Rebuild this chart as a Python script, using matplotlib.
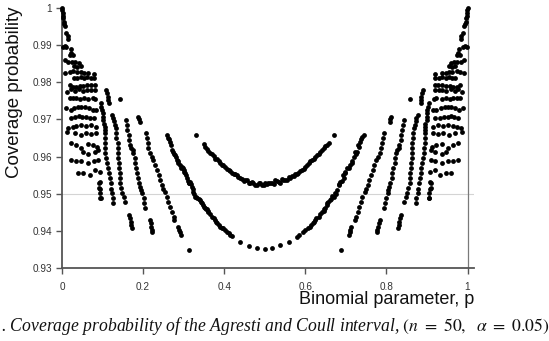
import matplotlib
matplotlib.use("Agg")
import matplotlib.pyplot as plt

# ---------------- data ----------------
# dense lattice near p = 0
edge_left_p = [0.000,0.001,0.002,0.002,0.003,0.004,0.005,0.008,0.011,0.015,0.016,
               0.002,0.007,0.011,0.021,0.023,0.019,0.027,
               0.008,0.016,0.025,0.033,0.041,0.030,0.038,0.046,
               0.008,0.019,0.027,0.038,0.046,0.054,0.064,0.079,
               0.030,0.038,0.046,0.054,0.062,0.071,0.079,
               0.019,0.027,0.035,0.044,0.052,0.062,0.072,0.081,
               0.013,0.023,0.031,0.041,0.052,0.062,0.071,0.081,
               0.019,0.027,0.035,0.044,0.054,0.064,0.077,0.082,
               0.011,0.021,0.030,0.040,0.048,0.056,0.066,0.077,0.085,
               0.023,0.033,0.041,0.049,0.058,0.068,0.079,
               0.015,0.027,0.035,0.048,0.060,0.072,0.085,
               0.013,0.031,0.046,0.060,0.072,0.085,
               0.023,0.035,0.048,0.064,0.077,0.087,
               0.089,0.081,0.064,0.052,
               0.023,0.035,0.048,0.064,0.079,0.089,
               0.040,0.052,0.068,0.081,0.093,
               0.093,0.093,0.096,0.091,0.091,0.094,0.094]
edge_left_c = [1.000,0.9995,0.9987,0.9978,0.9972,0.9963,0.9957,0.9952,0.9933,0.9925,0.9916,
               0.9896,0.9898,0.9896,0.9889,0.9880,0.9873,0.9873,
               0.9860,0.9855,0.9855,0.9855,0.9851,0.9844,0.9842,0.9844,
               0.9824,0.9829,0.9830,0.9829,0.9829,0.9826,0.9826,0.9822,
               0.9811,0.9811,0.9813,0.9811,0.9813,0.9811,0.9811,
               0.9793,0.9786,0.9786,0.9790,0.9790,0.9793,0.9793,0.9793,
               0.9775,0.9781,0.9777,0.9781,0.9777,0.9779,0.9779,0.9779,
               0.9757,0.9757,0.9757,0.9754,0.9757,0.9755,0.9757,0.9754,
               0.9730,0.9725,0.9730,0.9734,0.9733,0.9734,0.9730,0.9725,0.9725,
               0.9703,0.9707,0.9709,0.9707,0.9706,0.9703,0.9703,
               0.9676,0.9680,0.9682,0.9685,0.9682,0.9685,0.9680,
               0.9667,0.9664,0.9658,0.9663,0.9661,0.9663,
               0.9636,0.9631,0.9622,0.9634,0.9631,0.9627,
               0.9618,0.9613,0.9607,0.9613,
               0.9591,0.9589,0.9589,0.9582,0.9589,0.9591,
               0.9555,0.9557,0.9550,0.9564,0.9559,
               0.9532,0.9512,0.9488,0.9530,0.9516,0.9502,0.9488]

# dense lattice near p = 1
edge_right_p = [1.000,0.999,0.998,0.998,0.997,0.996,0.995,0.992,0.989,0.985,0.984,
                0.998,0.993,0.989,0.979,0.977,0.981,0.973,
                0.992,0.984,0.975,0.967,0.959,0.970,0.962,0.954,
                0.992,0.981,0.973,0.962,0.954,0.946,0.936,0.921,
                0.970,0.962,0.954,0.946,0.938,0.929,0.921,
                0.981,0.973,0.965,0.956,0.948,0.938,0.928,0.919,
                0.987,0.977,0.969,0.959,0.948,0.938,0.929,0.919,
                0.981,0.973,0.965,0.956,0.946,0.936,0.923,0.918,
                0.989,0.979,0.970,0.960,0.952,0.944,0.934,0.923,0.915,
                0.977,0.967,0.959,0.951,0.942,0.932,0.921,
                0.985,0.973,0.965,0.952,0.940,0.928,0.915,
                0.987,0.969,0.954,0.940,0.928,0.915,
                0.977,0.965,0.952,0.936,0.923,0.913,
                0.911,0.919,0.936,0.948,
                0.977,0.965,0.952,0.936,0.921,0.911,
                0.960,0.948,0.932,0.919,0.907,
                0.907,0.907,0.904,0.909,0.909,0.906,0.906]
edge_right_c = [1.000,0.9995,0.9987,0.9978,0.9972,0.9963,0.9957,0.9952,0.9933,0.9925,0.9916,
                0.9896,0.9898,0.9896,0.9889,0.9880,0.9873,0.9873,
                0.9860,0.9855,0.9855,0.9855,0.9851,0.9844,0.9842,0.9844,
                0.9824,0.9829,0.9830,0.9829,0.9829,0.9826,0.9826,0.9822,
                0.9811,0.9811,0.9813,0.9811,0.9813,0.9811,0.9811,
                0.9793,0.9786,0.9786,0.9790,0.9790,0.9793,0.9793,0.9793,
                0.9775,0.9781,0.9777,0.9781,0.9777,0.9779,0.9779,0.9779,
                0.9757,0.9757,0.9757,0.9754,0.9757,0.9755,0.9757,0.9754,
                0.9730,0.9725,0.9730,0.9734,0.9733,0.9734,0.9730,0.9725,0.9725,
                0.9703,0.9707,0.9709,0.9707,0.9706,0.9703,0.9703,
                0.9676,0.9680,0.9682,0.9685,0.9682,0.9685,0.9680,
                0.9667,0.9664,0.9658,0.9663,0.9661,0.9663,
                0.9636,0.9631,0.9622,0.9634,0.9631,0.9627,
                0.9618,0.9613,0.9607,0.9613,
                0.9591,0.9589,0.9589,0.9582,0.9589,0.9591,
                0.9555,0.9557,0.9550,0.9564,0.9559,
                0.9532,0.9512,0.9488,0.9530,0.9516,0.9502,0.9488]

# steep strands, left half
strands_left_p = [0.109,0.112,0.114,0.114,0.115,
                  0.143,
                  0.096,0.097,0.099,0.101,0.101,0.101,0.104,0.105,0.105,0.105,0.105,0.105,
                  0.107,0.107,0.109,0.112,0.114,0.115,0.118,0.120,0.122,0.123,0.126,0.126,
                  0.123,0.126,0.128,0.130,0.132,0.134,0.134,0.137,0.137,0.138,0.138,0.140,
                  0.140,0.142,0.142,0.142,0.146,0.149,0.152,0.156,
                  0.157,0.160,0.161,0.164,0.165,0.168,0.170,0.174,0.176,0.179,0.180,0.183,
                  0.185,0.187,0.190,0.193,0.195,0.197,0.201,0.203,0.205,
                  0.188,0.190,0.192,
                  0.165,0.167,0.169,0.170,0.172,
                  0.207,0.209,0.212,0.213,0.217,0.221,0.225,0.230,0.234,0.238,0.242,0.246,
                  0.250,0.254,0.259,0.262,0.267,0.271,0.275,0.277,
                  0.217,0.219,0.220,0.222,0.223,
                  0.287,0.289,0.291,0.293,
                  0.312]
strands_left_c = [0.9779,0.9770,0.9761,0.9752,0.9743,
                  0.9754,
                  0.9743,0.9734,0.9725,0.9716,0.9707,0.9698,0.9689,0.9680,0.9671,0.9663,0.9649,0.9636,
                  0.9622,0.9609,0.9595,0.9582,0.9568,0.9555,0.9541,0.9528,0.9514,0.9501,0.9488,0.9474,
                  0.9712,0.9703,0.9695,0.9685,0.9676,0.9663,0.9649,0.9636,0.9622,0.9609,0.9595,0.9582,
                  0.9568,0.9555,0.9541,0.9528,0.9515,0.9502,0.9490,0.9478,
                  0.9698,0.9685,0.9671,0.9658,0.9645,0.9631,0.9622,0.9618,0.9609,0.9595,0.9582,0.9568,
                  0.9555,0.9541,0.9528,0.9519,0.9510,0.9501,0.9488,0.9474,0.9461,
                  0.9707,0.9700,0.9694,
                  0.9443,0.9434,0.9425,0.9416,0.9407,
                  0.9663,0.9649,0.9636,0.9622,0.9609,0.9600,0.9591,0.9577,0.9564,0.9550,0.9537,0.9523,
                  0.9514,0.9505,0.9492,0.9478,0.9465,0.9451,0.9438,0.9429,
                  0.9429,0.9420,0.9411,0.9402,0.9398,
                  0.9411,0.9403,0.9396,0.9389,
                  0.9348]

# steep strands, right half
strands_right_p = [0.891,0.888,0.886,0.886,0.885,
                   0.857,
                   0.904,0.903,0.901,0.899,0.899,0.899,0.896,0.895,0.895,0.895,0.895,0.895,
                   0.893,0.893,0.891,0.888,0.886,0.885,0.882,0.880,0.878,0.877,0.874,0.874,
                   0.877,0.874,0.872,0.870,0.868,0.866,0.866,0.863,0.863,0.862,0.862,0.860,
                   0.860,0.858,0.858,0.858,0.854,0.851,0.848,0.844,
                   0.843,0.840,0.839,0.836,0.835,0.832,0.830,0.826,0.824,0.821,0.820,0.817,
                   0.815,0.813,0.810,0.807,0.805,0.803,0.799,0.797,0.795,
                   0.812,0.810,0.808,
                   0.835,0.833,0.831,0.830,0.828,
                   0.793,0.791,0.788,0.787,0.783,0.779,0.775,0.770,0.766,0.762,0.758,0.754,
                   0.750,0.746,0.741,0.738,0.733,0.729,0.725,0.723,
                   0.783,0.781,0.780,0.778,0.777,
                   0.713,0.711,0.709,0.707,
                   0.688]
strands_right_c = [0.9779,0.9770,0.9761,0.9752,0.9743,
                   0.9754,
                   0.9743,0.9734,0.9725,0.9716,0.9707,0.9698,0.9689,0.9680,0.9671,0.9663,0.9649,0.9636,
                   0.9622,0.9609,0.9595,0.9582,0.9568,0.9555,0.9541,0.9528,0.9514,0.9501,0.9488,0.9474,
                   0.9712,0.9703,0.9695,0.9685,0.9676,0.9663,0.9649,0.9636,0.9622,0.9609,0.9595,0.9582,
                   0.9568,0.9555,0.9541,0.9528,0.9515,0.9502,0.9490,0.9478,
                   0.9698,0.9685,0.9671,0.9658,0.9645,0.9631,0.9622,0.9618,0.9609,0.9595,0.9582,0.9568,
                   0.9555,0.9541,0.9528,0.9519,0.9510,0.9501,0.9488,0.9474,0.9461,
                   0.9707,0.9700,0.9694,
                   0.9443,0.9434,0.9425,0.9416,0.9407,
                   0.9663,0.9649,0.9636,0.9622,0.9609,0.9600,0.9591,0.9577,0.9564,0.9550,0.9537,0.9523,
                   0.9514,0.9505,0.9492,0.9478,0.9465,0.9451,0.9438,0.9429,
                   0.9429,0.9420,0.9411,0.9402,0.9398,
                   0.9411,0.9403,0.9396,0.9389,
                   0.9348]

# lower branch through the middle
lower_p = [0.259,0.262,0.264,0.267,0.269,0.271,0.273,0.276,0.279,0.281,0.283,0.285,0.287,
           0.291,0.293,0.296,0.298,0.300,0.302,0.304,0.306,0.308,0.310,0.312,0.314,0.316,
           0.318,0.320,0.322,0.324,0.326,0.328,0.330,0.333,0.337,0.341,0.343,0.345,0.347,
           0.349,0.353,0.355,0.357,0.359,0.361,0.365,0.370,0.374,0.378,0.380,0.382,0.386,
           0.390,0.394,0.398,0.402,0.406,0.411,0.415,0.419,0.440,0.460,0.481,0.501,
           0.518,0.538,0.559,0.580,0.585,0.594,0.600,0.606,0.612,0.614,0.620,0.622,0.625,
           0.626,0.633,0.635,0.641,0.645,0.647,0.649,0.653,0.654,0.657,0.662,0.663,0.666,
           0.670,0.674,0.676,0.678,0.682,0.684,0.686,0.690,0.694,0.695,0.698,0.699,0.702,
           0.707,0.709,0.714,0.715,0.719,0.723,0.724,0.727,0.731,0.732,0.736,0.738,0.741,0.744]
lower_c = [0.9658,0.9650,0.9648,0.9640,0.9630,0.9618,0.9612,0.9608,0.9604,0.9598,0.9591,0.9588,0.9582,
           0.9578,0.9570,0.9573,0.9568,0.9564,0.9559,0.9555,0.9550,0.9541,0.9535,0.9528,0.9530,0.9532,
           0.9525,0.9519,0.9512,0.9505,0.9498,0.9492,0.9492,0.9488,0.9487,0.9483,0.9478,0.9474,0.9470,
           0.9465,0.9461,0.9459,0.9458,0.9454,0.9451,0.9445,0.9438,0.9434,0.9429,0.9425,0.9420,0.9415,
           0.9411,0.9409,0.9407,0.9402,0.9398,0.9393,0.9389,0.9386,0.9371,0.9359,0.9353,0.9350,
           0.9355,0.9362,0.9371,0.9384,0.9389,0.9398,0.9402,0.9409,0.9411,0.9415,0.9420,0.9425,0.9429,
           0.9434,0.9438,0.9445,0.9451,0.9454,0.9459,0.9461,0.9470,0.9474,0.9478,0.9483,0.9487,0.9494,
           0.9492,0.9501,0.9498,0.9510,0.9523,0.9525,0.9532,0.9535,0.9550,0.9541,0.9559,0.9555,0.9568,
           0.9568,0.9578,0.9582,0.9588,0.9600,0.9613,0.9608,0.9612,0.9630,0.9627,0.9640,0.9648,0.9653,0.9658]

# upper branch through the middle
upper_p = [0.331,0.349,0.353,0.357,0.361,0.365,0.369,0.374,0.378,0.382,0.386,0.390,0.394,
           0.398,0.402,0.406,0.411,0.415,0.419,0.423,0.427,0.431,0.435,0.440,0.444,0.448,
           0.452,0.456,0.460,0.464,0.468,0.472,0.477,0.481,0.485,0.489,0.493,0.497,0.501,
           0.505,0.509,0.513,0.518,0.522,0.526,0.530,0.534,0.538,0.542,0.546,0.551,0.555,
           0.559,0.563,0.567,0.571,0.575,0.579,0.583,0.588,0.592,0.596,0.600,0.604,0.608,
           0.612,0.617,0.621,0.625,0.629,0.633,0.637,0.641,0.645,0.649,0.653,0.658,0.670]
upper_c = [0.9658,0.9634,0.9627,0.9620,0.9616,0.9610,0.9608,0.9602,0.9594,0.9593,0.9589,0.9582,0.9577,
           0.9576,0.9573,0.9566,0.9564,0.9562,0.9557,0.9553,0.9553,0.9550,0.9544,0.9543,0.9539,0.9534,
           0.9537,0.9536,0.9530,0.9528,0.9532,0.9530,0.9523,0.9524,0.9530,0.9530,0.9523,0.9524,0.9530,
           0.9526,0.9528,0.9530,0.9528,0.9526,0.9537,0.9534,0.9532,0.9530,0.9539,0.9538,0.9537,0.9536,
           0.9544,0.9543,0.9548,0.9549,0.9553,0.9552,0.9557,0.9560,0.9564,0.9567,0.9573,0.9578,0.9582,
           0.9587,0.9591,0.9594,0.9598,0.9604,0.9608,0.9613,0.9619,0.9624,0.9628,0.9632,0.9636,0.9658]

x_ticks = [0, 0.2, 0.4, 0.6, 0.8, 1]
x_tick_labels = ["0", "0.2", "0.4", "0.6", "0.8", "1"]
y_ticks = [0.93, 0.94, 0.95, 0.96, 0.97, 0.98, 0.99, 1.0]
y_tick_labels = ["0.93", "0.94", "0.95", "0.96", "0.97", "0.98", "0.99", "1"]

# ---------------- figure ----------------
plt.rcParams["font.family"] = ["Liberation Sans", "DejaVu Sans"]
plt.rcParams["mathtext.fontset"] = "stix"

W, H = 549, 341
fig = plt.figure(figsize=(W / 100, H / 100), dpi=100)
ax = fig.add_axes([62 / W, 1 - 268 / H, (474 - 62) / W, 260 / H])
ax.set_xlim(0, 1.016)
ax.set_ylim(0.93, 1.0)

ax.axhline(0.95, color="#d4d4d4", lw=0.8, zorder=0)
ax.axvline(1.0, color="#7a7a7a", lw=0.9, zorder=1)

groups = [(edge_left_p, edge_left_c), (edge_right_p, edge_right_c),
          (strands_left_p, strands_left_c), (strands_right_p, strands_right_c),
          (lower_p, lower_c), (upper_p, upper_c)]
for px, cy in groups:
    ax.scatter(px, cy, s=12, color="black", linewidths=0, zorder=3, clip_on=False)

for side in ["top", "right"]:
    ax.spines[side].set_visible(False)
for side in ["left", "bottom"]:
    ax.spines[side].set_color("#555555")
    ax.spines[side].set_linewidth(1.3)

ax.set_xticks(x_ticks)
ax.set_xticklabels(x_tick_labels)
ax.set_yticks(y_ticks)
ax.set_yticklabels(y_tick_labels)
ax.tick_params(axis="both", direction="out", length=4, width=1, color="#555555",
               labelsize=7.2, labelcolor="#333333", pad=3)
ax.tick_params(axis="x", pad=6)

fig.text(15 / W, 1 - 92 / H, "Coverage probability", rotation=90, fontsize=13.5,
         ha="center", va="center", color="#111111")
fig.text(474.5 / W, 1 - 300 / H, "Binomial parameter, p", fontsize=13,
         ha="right", va="center", color="#111111")
fig.text(1 / W, 1 - 326 / H,
         ". Coverage probability of the Agresti and Coull interval, "
         + r"$(n\ =\ \mathit{50},\ \ \alpha\ =\ 0.05)$",
         fontsize=12.7, ha="left", va="center", family="Liberation Serif",
         style="italic", color="#111111")

fig.savefig("out.png", dpi=100)
